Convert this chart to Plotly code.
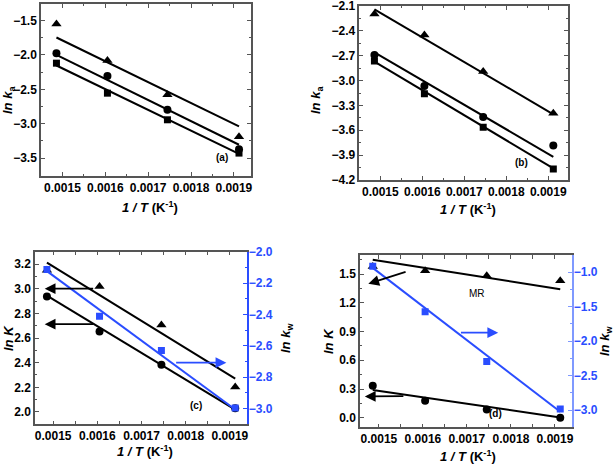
import plotly.graph_objects as go

# ---------------- data ----------------
inv_T = [0.001486, 0.001605, 0.001745, 0.001912]
fit_x = [0.001486, 0.001912]

# panel (a)  ln ka
a_tri = [-1.55, -2.08, -2.58, -3.19]
a_cir = [-1.975, -2.305, -2.798, -3.37]
a_sq = [-2.12, -2.556, -2.943, -3.427]
a_fit_tri = [-1.747, -3.04]
a_fit_cir = [-2.0, -3.306]
a_fit_sq = [-2.154, -3.437]

# panel (b)  ln ka
b_tri = [-2.197, -2.45, -2.89, -3.395]
b_cir = [-2.69, -3.065, -3.44, -3.785]
b_sq = [-2.764, -3.16, -3.564, -4.067]
b_fit_tri = [-2.14, -3.407]
b_fit_cir = [-2.659, -3.92]
b_fit_sq = [-2.77, -4.06]

# panel (c)  ln K (left), ln kw (right)
c_tri = [3.15, 3.017, 2.706, 2.202]
c_cir = [2.936, 2.653, 2.383, 2.03]
c_kw = [-2.113, -2.412, -2.630, -2.996]
c_fit_tri = [3.211, 2.27]
c_fit_cir = [2.944, 2.019]
c_fit_kw = [-2.124, -3.006]

# panel (d)  ln K (left), ln kw (right)
d_tri = [1.58, 1.535, 1.483, 1.43]
d_cir = [0.335, 0.178, 0.087, 0.0]
d_kw = [-0.913, -1.573, -2.296, -2.986]
d_fit_tri = [1.65, 1.343]
d_fit_cir = [0.29, 0.003]
d_fit_kw = [-0.937, -3.024]

BLUE = "#2a4dff"
LBLUE = "#7f99ff"
AX = "#555555"
FONT = "Liberation Sans, Arial, sans-serif"

fig = go.Figure()


def pts(x, y, sym, size, color, xa, ya):
    fig.add_trace(go.Scatter(x=x, y=y, mode="markers", xaxis=xa, yaxis=ya,
                             marker=dict(symbol=sym, size=size, color=color),
                             showlegend=False, hoverinfo="skip"))


def line(x, y, color, xa, ya):
    fig.add_trace(go.Scatter(x=x, y=y, mode="lines", xaxis=xa, yaxis=ya,
                             line=dict(color=color, width=2),
                             showlegend=False, hoverinfo="skip"))


# (a)
for fy in (a_fit_tri, a_fit_cir, a_fit_sq):
    line(fit_x, fy, "black", "x", "y")
pts(inv_T, a_tri, "triangle-up", 9, "black", "x", "y")
pts(inv_T, a_cir, "circle", 8, "black", "x", "y")
pts(inv_T, a_sq, "square", 7, "black", "x", "y")
# (b)
for fy in (b_fit_tri, b_fit_cir, b_fit_sq):
    line(fit_x, fy, "black", "x2", "y2")
pts(inv_T, b_tri, "triangle-up", 9, "black", "x2", "y2")
pts(inv_T, b_cir, "circle", 8, "black", "x2", "y2")
pts(inv_T, b_sq, "square", 7, "black", "x2", "y2")
# (c)
line(fit_x, c_fit_tri, "black", "x3", "y3")
line(fit_x, c_fit_cir, "black", "x3", "y3")
pts(inv_T, c_tri, "triangle-up", 9, "black", "x3", "y3")
pts(inv_T, c_cir, "circle", 8, "black", "x3", "y3")
line(fit_x, c_fit_kw, BLUE, "x3", "y5")
pts(inv_T, c_kw, "square", 7, BLUE, "x3", "y5")
# (d)
line(fit_x, d_fit_tri, "black", "x4", "y4")
line(fit_x, d_fit_cir, "black", "x4", "y4")
pts(inv_T, d_tri, "triangle-up", 9, "black", "x4", "y4")
pts(inv_T, d_cir, "circle", 8, "black", "x4", "y4")
line(fit_x, d_fit_kw, BLUE, "x4", "y6")
pts(inv_T, d_kw, "square", 7, BLUE, "x4", "y6")

tickfont = dict(family=FONT, size=12, color="black", weight="bold")


def xax(domain, anchor, rng):
    return dict(domain=domain, anchor=anchor, range=rng, dtick=0.0001, tick0=0.0015,
                tickformat=".4f", ticks="inside", ticklen=4, tickcolor=AX, automargin=False,
                ticklabeloverflow="allow",
                showline=True, linecolor=AX, linewidth=1.5, mirror="allticks",
                showgrid=False, zeroline=False, tickfont=tickfont,
                minor=dict(ticks="inside", ticklen=2, dtick=0.00005, tickcolor=AX, showgrid=False))


def yax(domain, anchor, rng, dt, fmt, mirror=True):
    return dict(domain=domain, anchor=anchor, range=rng, dtick=dt, tickformat=fmt,
                ticks="inside", ticklen=4, tickcolor=AX, automargin=False,
                ticklabeloverflow="allow",
                showline=True, linecolor=AX, linewidth=1.5,
                mirror="allticks" if mirror else False,
                showgrid=False, zeroline=False, tickfont=tickfont,
                minor=dict(ticks="inside", ticklen=2, dtick=dt / 2, tickcolor=AX, showgrid=False))


def ryax(anchor, overlay, rng, dt, lc, tc):
    return dict(overlaying=overlay, anchor=anchor, side="right", range=rng, dtick=dt,
                tickformat=".1f", ticks="inside", ticklen=4, tickcolor=lc, automargin=False,
                ticklabeloverflow="allow", ticklabelstandoff=-2,
                showline=True, linecolor=lc, linewidth=1.5, showgrid=False, zeroline=False,
                tickfont=dict(family=FONT, size=12, color=tc, weight="bold"),
                minor=dict(ticks="inside", ticklen=2, dtick=dt / 2, tickcolor=lc, showgrid=False))


fig.update_layout(
    template="none",
    width=614, height=465, margin=dict(l=0, r=0, t=0, b=0, autoexpand=False),
    paper_bgcolor="white", plot_bgcolor="white",
    font=dict(family=FONT, color="black"),
    xaxis=xax([0.0668, 0.4088], "y", [0.00145, 0.00194]),
    yaxis=yax([0.6215, 0.9914], "x", [-3.76, -1.26], 0.5, ".1f"),
    xaxis2=xax([0.5852, 0.9251], "y2", [0.00145, 0.001947]),
    yaxis2=yax([0.6129, 0.9871], "x2", [-4.2, -2.0999], 0.3, ".1f"),
    xaxis3=xax([0.0570, 0.4018], "y3", [0.001459, 0.001938]),
    yaxis3=yax([0.0875, 0.4587], "x3", [1.9, 3.3], 0.2, ".1f", mirror=False),
    xaxis4=xax([0.5863, 0.9311], "y4", [0.001457, 0.001938]),
    yaxis4=yax([0.0811, 0.4516], "x4", [-0.1, 1.7], 0.3, ".1f", mirror=False),
    yaxis5=ryax("x3", "y3", [-3.1, -1.9999], 0.2, BLUE, BLUE),
    yaxis6=ryax("x4", "y4", [-3.25, -0.75], 0.5, LBLUE, BLUE),
)

ann = []
tf = dict(family=FONT, size=13, color="black", weight="bold")
xtitle = "<i>1 / T</i> (K<sup>-1</sup>)"


def title(text, x, y, angle=0, color="black"):
    f = dict(tf)
    f["color"] = color
    ann.append(dict(text=text, x=x / 614, y=1 - y / 465, xref="paper", yref="paper",
                    showarrow=False, textangle=angle, font=f, xanchor="center", yanchor="middle"))


title(xtitle, 150, 207)
title(xtitle, 468, 209)
title(xtitle, 145, 451)
title(xtitle, 468, 456)
title("<i>ln k</i><sub>a</sub>", 8, 100, -90)
title("<i>ln k</i><sub>a</sub>", 316, 100, -90)
title("<i>ln K</i>", 8, 338, -90)
title("<i>ln k</i><sub>w</sub>", 286, 338, -90)
title("<i>ln K</i>", 328, 341, -90)
title("<i>ln k</i><sub>w</sub>", 605, 341, -90)


def label(text, xd, yd, xref, yref, size=10):
    ann.append(dict(text=text, x=xd, y=yd, xref=xref, yref=yref, showarrow=False,
                    font=dict(family=FONT, size=size, color="black", weight="bold")))


label("(a)", 0.90, 0.065, "x domain", "y domain")
label("(b)", 0.818, 0.057, "x2 domain", "y2 domain")
label("(c)", 0.80, 0.064, "x3 domain", "y3 domain")
label("(d)", 0.68, 0.035, "x4 domain", "y4 domain")
ann.append(dict(text="MR", x=0.001722, y=1.30, xref="x4", yref="y4", showarrow=False,
                font=dict(family=FONT, size=10, color="black")))


def arrow(x0, y0, x1, y1, xr, yr, color):
    ann.append(dict(x=x1, y=y1, ax=x0, ay=y0, xref=xr, yref=yr, axref=xr, ayref=yr,
                    text="", showarrow=True, arrowhead=2, arrowsize=1.2, arrowwidth=1.8,
                    arrowcolor=color))


arrow(0.001594, 3.0, 0.001481, 3.0, "x3", "y3", "black")
arrow(0.001594, 2.712, 0.001481, 2.712, "x3", "y3", "black")
arrow(0.001775, -2.707, 0.001892, -2.707, "x3", "y5", BLUE)
arrow(0.001564, 1.528, 0.001476, 1.399, "x4", "y4", "black")
arrow(0.001559, 0.225, 0.001468, 0.222, "x4", "y4", "black")
arrow(0.001683, -1.877, 0.001771, -1.877, "x4", "y6", BLUE)

fig.update_layout(annotations=ann)
fig.write_html("out.html", config={"displayModeBar": False},
               post_script="document.body.style.margin='0';")
